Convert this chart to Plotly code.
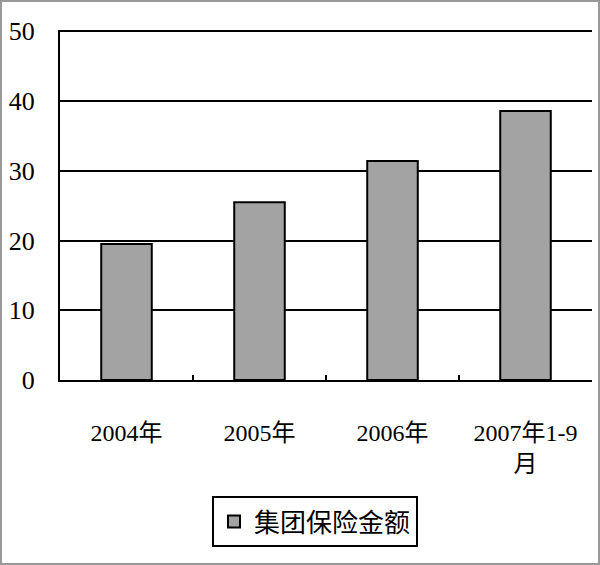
import plotly.graph_objects as go

categories = ["2004年", "2005年", "2006年", "2007年1-9<br>月"]
values = [19.5, 25.5, 31.4, 38.6]
series_name = "集团保险金额"
y_ticks = [0, 10, 20, 30, 40, 50]

FONT = "Liberation Serif, Noto Sans CJK SC, serif"

fig = go.Figure()
fig.add_trace(go.Bar(
    x=categories, y=values, name=series_name,
    marker=dict(color="#a3a3a3", line=dict(color="black", width=2)),
    showlegend=True,
))

W, H = 600, 565
L, T = 60, 30
pw, ph = 532, 350
R = W - L - pw
B = H - T - ph

fig.update_layout(
    width=W, height=H,
    margin=dict(l=L, r=R, t=T, b=B, autoexpand=False),
    paper_bgcolor="white", plot_bgcolor="white",
    font=dict(family=FONT, color="black", size=23),
    bargap=0.62,
    showlegend=True,
    legend=dict(
        x=(315 - L) / pw, xanchor="center",
        y=-(496 - (T + ph)) / ph, yanchor="top",
        bordercolor="black", borderwidth=2,
        font=dict(size=26, family="Noto Sans CJK SC"),
        bgcolor="white",
    ),
    xaxis=dict(
        showline=True, linecolor="black", linewidth=2,
        ticks="inside", ticklen=5, tickwidth=2, tickcolor="black",
        tickson="boundaries", showgrid=False,
        ticklabelstandoff=30, automargin=False,
        tickfont=dict(size=24),
    ),
    yaxis=dict(
        range=[0, 50.2], tickvals=y_ticks,
        showline=True, linecolor="black", linewidth=2,
        showgrid=True, gridcolor="black", gridwidth=2,
        zeroline=False, ticks="", ticklabelstandoff=18, automargin=False,
        tickfont=dict(size=26),
    ),
    shapes=[dict(
        type="rect", xref="paper", yref="paper",
        x0=-(L - 1) / pw, x1=1 + (R - 1) / pw,
        y0=-(B - 1) / ph, y1=1 + (T - 1) / ph,
        line=dict(color="#999999", width=2), layer="below",
    )],
)

fig.write_html("out.html",
               config={"displayModeBar": False},
               post_script="document.body.style.margin='0';document.body.style.overflow='hidden';")
